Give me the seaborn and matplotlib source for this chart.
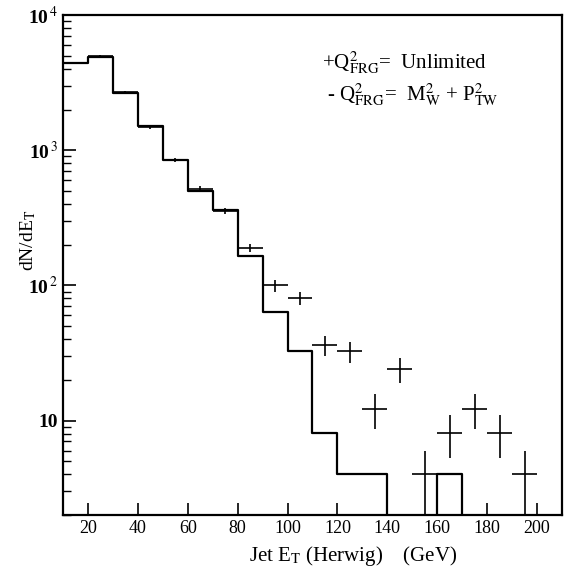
import matplotlib
matplotlib.use("Agg")
import matplotlib.pyplot as plt
import matplotlib.ticker as mticker
import seaborn as sns
import numpy as np

# Histogramme : Q2_FRG = M_W^2 + P_TW^2 (bords des bins et contenu)
hist_edges = [10, 20, 30, 40, 50, 60, 70, 80, 90, 100, 110, 120, 130, 140, 150, 160, 170, 180]
hist_vals = [4450, 4920, 2670, 1500, 843, 500, 363, 166, 64, 32.5, 8.1, 4, 4, 0, 0, 4, 0, 0]

# Points : Q2_FRG = Unlimited (centre, valeur, erreur)
pts_x = [15, 25, 35, 45, 55, 65, 75, 85, 95, 105, 115, 125, 135, 145, 155, 165, 175, 185, 195]
pts_y = [4450, 4950, 2700, 1480, 840, 520, 355, 190, 100, 81, 36, 32.5, 12.2, 24, 4, 8.1, 12.2, 8.1, 4]
pts_err = [67, 70, 52, 38, 29, 23, 19, 14, 10, 9, 6, 5.7, 3.5, 4.9, 2, 2.8, 3.5, 2.8, 2]

sns.set_theme(style="ticks")
plt.rcParams["font.family"] = ["Liberation Serif", "DejaVu Serif"]
plt.rcParams["mathtext.fontset"] = "stix"
plt.rcParams["text.color"] = "black"
plt.rcParams["axes.labelcolor"] = "black"
plt.rcParams["xtick.color"] = "black"
plt.rcParams["ytick.color"] = "black"

fig = plt.figure(figsize=(5.69, 5.74), dpi=100)
ax = fig.add_axes([0.1107, 0.1028, 0.877, 0.871])

# histogramme en escalier
sns.lineplot(x=hist_edges, y=hist_vals, drawstyle="steps-post", color="black",
             linewidth=1.6, ax=ax, sort=False)

# points avec barres d'erreur
ax.errorbar(pts_x, pts_y, xerr=5, yerr=pts_err, fmt="none", ecolor="black",
            elinewidth=1.2, capsize=0)

ax.set_yscale("log")
ax.set_xlim(10, 210)
ax.set_ylim(2, 1e4)

ax.xaxis.set_major_locator(mticker.MultipleLocator(20))
ax.yaxis.set_major_locator(mticker.LogLocator(base=10))
ax.yaxis.set_minor_locator(mticker.LogLocator(base=10, subs=np.arange(2, 10)))
ax.yaxis.set_minor_formatter(mticker.NullFormatter())

def fmt_y(v, pos):
    n = int(round(np.log10(v)))
    if n == 1:
        return "10"
    return r"10$^{\,%d}$" % n

ax.yaxis.set_major_formatter(mticker.FuncFormatter(fmt_y))

ax.tick_params(axis="both", which="both", direction="in")
ax.tick_params(axis="both", which="major", length=9, width=1.2, labelsize=13)
ax.tick_params(axis="y", which="minor", length=6, width=1.0)
for lab in ax.get_yticklabels():
    lab.set_fontweight("bold")
    lab.set_fontsize(14)

for sp in ax.spines.values():
    sp.set_visible(True)
    sp.set_linewidth(1.6)
    sp.set_color("black")

ax.set_xlabel(r"Jet E$_{\rm T}$ (Herwig)    (GeV)", fontsize=15)
ax.xaxis.set_label_coords(0.582, -0.058)
ax.set_ylabel(r"dN/dE$_{\rm T}$", fontsize=14)
ax.yaxis.set_label_coords(-0.05, 0.55)

ax.text(0.52, 0.904, r"+Q$^{2}_{\rm FRG}$=  Unlimited", transform=ax.transAxes,
        fontsize=15, va="center", ha="left")
ax.text(0.52, 0.84, r" - Q$^{2}_{\rm FRG}$=  M$^{2}_{\rm W}$ + P$^{2}_{\rm TW}$",
        transform=ax.transAxes, fontsize=15, va="center", ha="left")

fig.savefig("out.png", dpi=100)
